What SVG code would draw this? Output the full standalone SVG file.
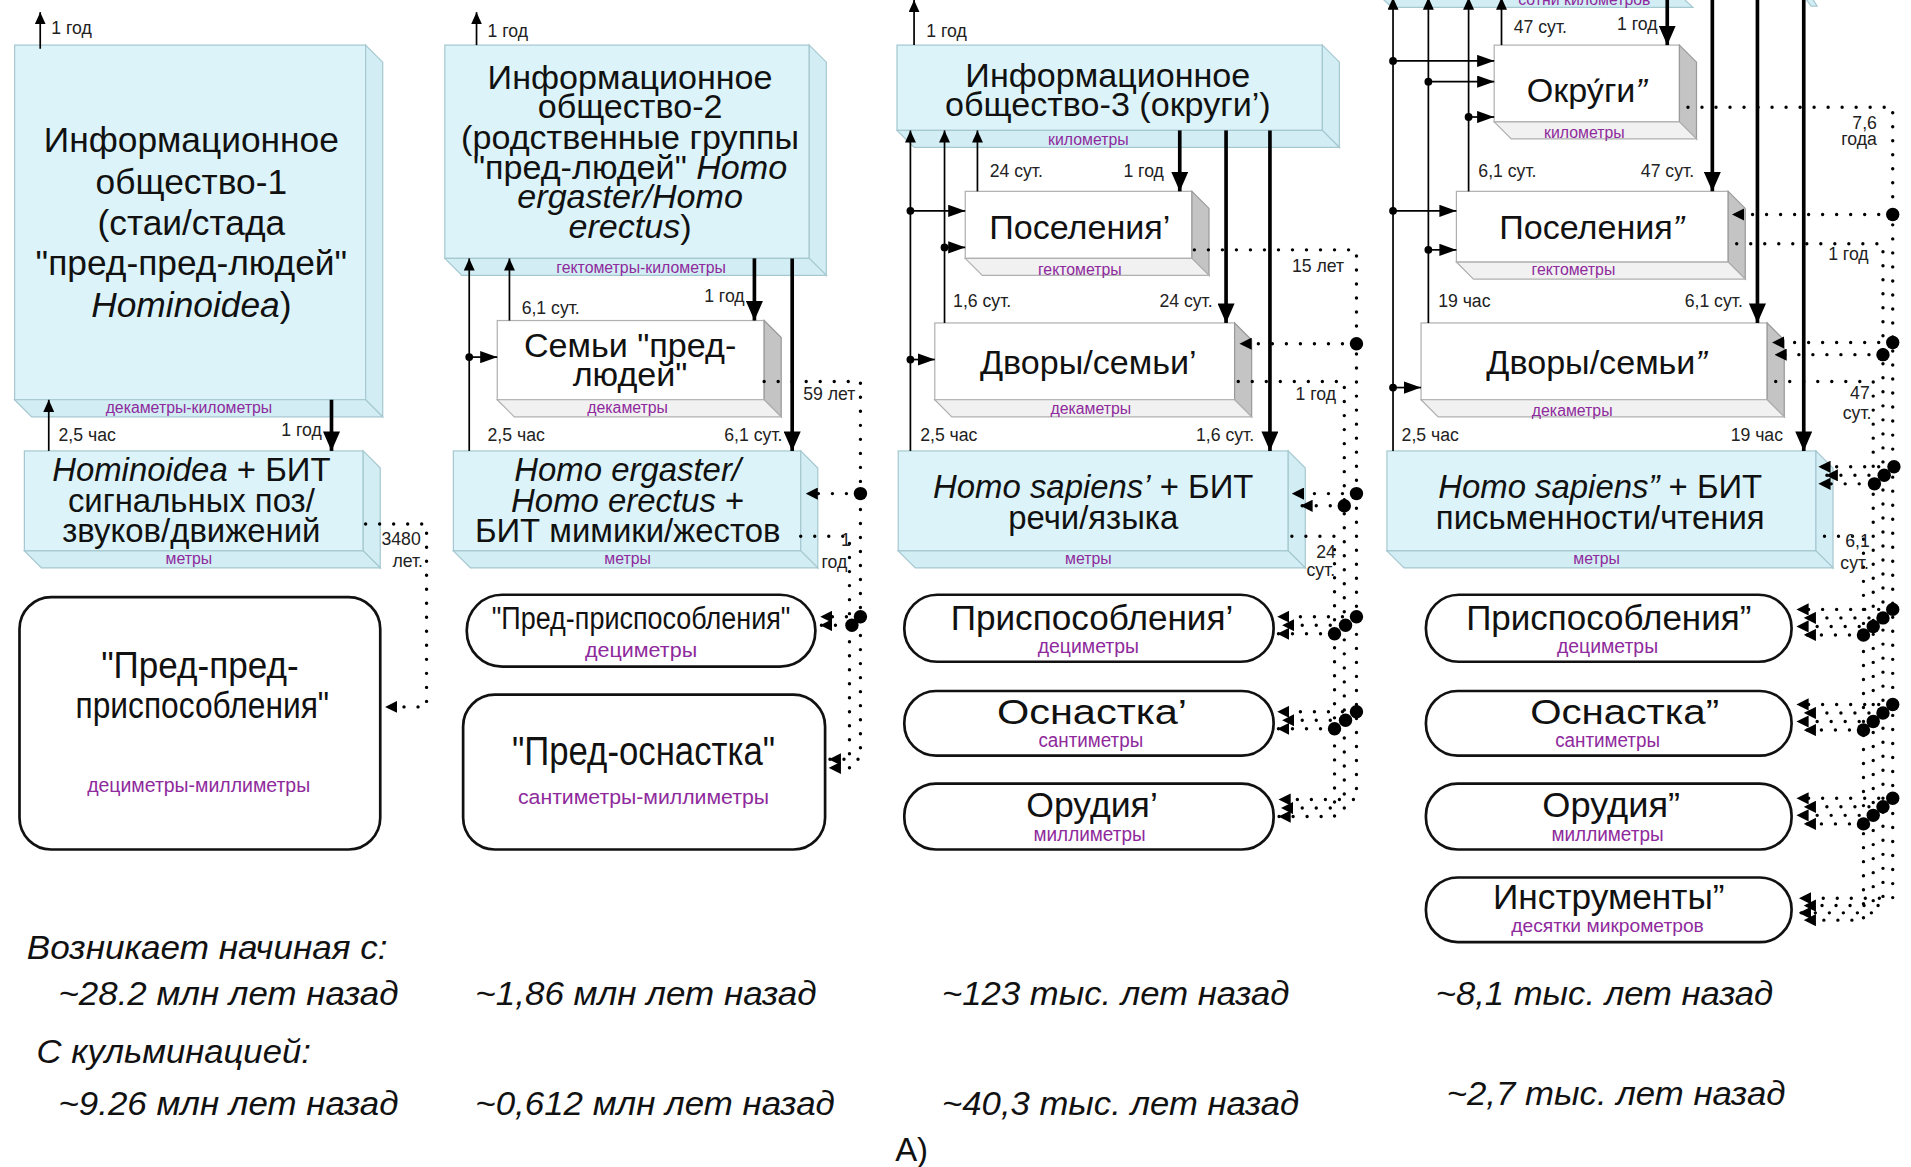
<svg xmlns="http://www.w3.org/2000/svg" width="1911" height="1167" viewBox="0 0 1911 1167">
<defs>
<style>
.cy{fill:#dcf4f9;stroke:#a6c8d0;stroke-width:1}
.cs{fill:#d2eef4;stroke:#a6c8d0;stroke-width:1}
.wf{fill:#fff;stroke:#b0b0b0;stroke-width:1}
.ws{fill:#c4c4c4;stroke:#9a9a9a;stroke-width:1}
.wb{fill:#f1f1f1;stroke:#b0b0b0;stroke-width:1}
.t{font-family:"Liberation Sans",Arial,sans-serif;fill:#111;text-anchor:middle}
.b29{font-size:29px}
.b28{font-size:28px}
.b27{font-size:27px}
.i{font-style:italic}
.s{font-family:"Liberation Sans",Arial,sans-serif;font-size:14.5px;fill:#222}
.e{text-anchor:end}
.pu{font-family:"Liberation Sans",Arial,sans-serif;font-size:13px;fill:#8e2a9c;text-anchor:middle}
.n{font-family:"Liberation Sans Narrow","Liberation Sans",Arial,sans-serif;fill:#111;text-anchor:middle}
.np{font-family:"Liberation Sans Narrow","Liberation Sans",Arial,sans-serif;fill:#8e2a9c;text-anchor:middle}
.bt{font-family:"Liberation Sans Narrow","Liberation Sans",Arial,sans-serif;font-style:italic;font-size:28px;fill:#111}
.ln{fill:none;stroke:#000;stroke-width:1.4}
.lk{fill:none;stroke:#000;stroke-width:3}
.dt{fill:none;stroke:#000;stroke-width:2.8;stroke-linecap:round;stroke-dasharray:0 11.5}
.rb{fill:#fff;stroke:#111;stroke-width:2.2}
</style>
<marker id="ta" markerUnits="userSpaceOnUse" markerWidth="10" markerHeight="9" refX="10" refY="4.5" orient="auto"><path d="M0,0 L10,4.5 L0,9 z" fill="#000"/></marker>
<marker id="tr" markerUnits="userSpaceOnUse" markerWidth="14" markerHeight="10" refX="14" refY="5" orient="auto"><path d="M0,0 L14,5 L0,10 z" fill="#000"/></marker>
<marker id="tb" markerUnits="userSpaceOnUse" markerWidth="16" markerHeight="14" refX="16" refY="7" orient="auto"><path d="M0,0 L16,7 L0,14 z" fill="#000"/></marker>
<marker id="da" markerUnits="userSpaceOnUse" markerWidth="10" markerHeight="10" refX="10" refY="5" orient="auto"><path d="M0,0 L10,5 L0,10 z" fill="#000"/></marker>
</defs>
<rect x="0" y="0" width="1911" height="1167" fill="#fff"/>
<g transform="scale(1.21875)">

<!-- ============ Column 1 ============ -->
<g id="is1">
<rect class="cy" x="12" y="37" width="288" height="291"/>
<polygon class="cs" points="300,37 314,51 314,342 300,328"/>
<polygon class="cs" points="12,328 300,328 314,342 26,342"/>
<text class="t b29" x="157" y="125">Информационное</text>
<text class="t b29" x="157" y="159">общество-1</text>
<text class="t b29" x="157" y="193">(стаи/стада</text>
<text class="t b29" x="157" y="226">"пред-пред-людей"</text>
<text class="t b29" x="157" y="260"><tspan class="i">Hominoidea</tspan>)</text>
<text class="pu" x="155" y="339">декаметры-километры</text>
</g>
<g id="bit1">
<rect class="cy" x="20" y="370" width="278" height="82"/>
<polygon class="cs" points="298,370 312,384 312,466 298,452"/>
<polygon class="cs" points="20,452 298,452 312,466 34,466"/>
<text class="t b27" x="157" y="395"><tspan class="i">Hominoidea</tspan> + БИТ</text>
<text class="t b27" x="157" y="420">сигнальных поз/</text>
<text class="t b27" x="157" y="445">звуков/движений</text>
<text class="pu" x="155" y="463">метры</text>
</g>
<g id="adapt1">
<rect class="rb" x="16" y="490" width="296" height="207" rx="26"/>
<text class="n" x="164" y="556" font-size="31" textLength="162" lengthAdjust="spacingAndGlyphs">"Пред-пред-</text>
<text class="n" x="166" y="589" font-size="31" textLength="208" lengthAdjust="spacingAndGlyphs">приспособления"</text>
<text class="np" x="163" y="650" font-size="16" textLength="183" lengthAdjust="spacingAndGlyphs">дециметры-миллиметры</text>
</g>

<!-- ============ Column 2 ============ -->
<g id="is2">
<rect class="cy" x="365" y="37" width="299" height="175"/>
<polygon class="cs" points="664,37 678,51 678,226 664,212"/>
<polygon class="cs" points="365,212 664,212 678,226 379,226"/>
<text class="t b28" x="517" y="73">Информационное</text>
<text class="t b28" x="517" y="97">общество-2</text>
<text class="t b28" x="517" y="122">(родственные группы</text>
<text class="t b28" x="517" y="147">"пред-людей" <tspan class="i">Homo</tspan></text>
<text class="t b28 i" x="517" y="171">ergaster/Homo</text>
<text class="t b28" x="517" y="195"><tspan class="i">erectus</tspan>)</text>
<text class="pu" x="526" y="224">гектометры-километры</text>
</g>
<g id="fam2">
<rect class="wf" x="408" y="263" width="219" height="65"/>
<polygon class="ws" points="627,263 641,277 641,342 627,328"/>
<polygon class="wb" points="408,328 627,328 641,342 422,342"/>
<text class="t" font-size="28" x="517" y="293">Семьи "пред-</text>
<text class="t" font-size="28" x="517" y="317">людей"</text>
<text class="pu" x="515" y="339">декаметры</text>
</g>
<g id="bit2">
<rect class="cy" x="372" y="370" width="285" height="82"/>
<polygon class="cs" points="657,370 671,384 671,466 657,452"/>
<polygon class="cs" points="372,452 657,452 671,466 386,466"/>
<text class="t b27 i" x="515" y="395">Homo ergaster/</text>
<text class="t b27" x="515" y="420"><tspan class="i">Homo erectus</tspan> +</text>
<text class="t b27" x="515" y="445">БИТ мимики/жестов</text>
<text class="pu" x="515" y="463">метры</text>
</g>
<g id="adapt2">
<rect class="rb" x="383" y="488" width="286" height="59" rx="29"/>
<text class="n" x="526" y="516" font-size="25" textLength="245" lengthAdjust="spacingAndGlyphs">"Пред-приспособления"</text>
<text class="np" x="526" y="539" font-size="17" textLength="92" lengthAdjust="spacingAndGlyphs">дециметры</text>
</g>
<g id="tool2">
<rect class="rb" x="380" y="570" width="297" height="127" rx="26"/>
<text class="n" x="528" y="628" font-size="34" textLength="216" lengthAdjust="spacingAndGlyphs">"Пред-оснастка"</text>
<text class="np" x="528" y="660" font-size="17" textLength="206" lengthAdjust="spacingAndGlyphs">сантиметры-миллиметры</text>
</g>

<!-- ============ Column 3 ============ -->
<g id="is3">
<rect class="cy" x="736" y="37" width="349" height="70"/>
<polygon class="cs" points="1085,37 1099,51 1099,121 1085,107"/>
<polygon class="cs" points="736,107 1085,107 1099,121 750,121"/>
<text class="t b28" x="909" y="71">Информационное</text>
<text class="t b28" x="909" y="95">общество-3 (округи’)</text>
<text class="pu" x="893" y="119">километры</text>
</g>
<g id="set3">
<rect class="wf" x="792" y="157" width="186" height="55"/>
<polygon class="ws" points="978,157 992,171 992,226 978,212"/>
<polygon class="wb" points="792,212 978,212 992,226 806,226"/>
<text class="t" font-size="28" x="886" y="196">Поселения’</text>
<text class="pu" x="886" y="226">гектометры</text>
</g>
<g id="yard3">
<rect class="wf" x="767" y="265" width="246" height="63"/>
<polygon class="ws" points="1013,265 1027,279 1027,342 1013,328"/>
<polygon class="wb" points="767,328 1013,328 1027,342 781,342"/>
<text class="t" font-size="28" x="893" y="307">Дворы/семьи’</text>
<text class="pu" x="895" y="340">декаметры</text>
</g>
<g id="bit3">
<rect class="cy" x="737" y="370" width="320" height="82"/>
<polygon class="cs" points="1057,370 1071,384 1071,466 1057,452"/>
<polygon class="cs" points="737,452 1057,452 1071,466 751,466"/>
<text class="t b27" x="897" y="409"><tspan class="i">Homo sapiens’</tspan> + БИТ</text>
<text class="t b27" x="897" y="434">речи/языка</text>
<text class="pu" x="893" y="463">метры</text>
</g>
<g id="adapt3">
<rect class="rb" x="742" y="488" width="303" height="55" rx="27"/>
<text class="n" x="896" y="517" font-size="29" textLength="232" lengthAdjust="spacingAndGlyphs">Приспособления’</text>
<text class="np" x="893" y="536" font-size="16" textLength="83" lengthAdjust="spacingAndGlyphs">дециметры</text>
</g>
<g id="tool3">
<rect class="rb" x="742" y="567" width="303" height="53" rx="26"/>
<text class="n" x="896" y="594" font-size="29" textLength="156" lengthAdjust="spacingAndGlyphs">Оснастка’</text>
<text class="np" x="895" y="613" font-size="16" textLength="86" lengthAdjust="spacingAndGlyphs">сантиметры</text>
</g>
<g id="instr3">
<rect class="rb" x="742" y="643" width="303" height="54" rx="26"/>
<text class="n" x="896" y="670" font-size="29" textLength="108" lengthAdjust="spacingAndGlyphs">Орудия’</text>
<text class="np" x="894" y="690" font-size="16" textLength="92" lengthAdjust="spacingAndGlyphs">миллиметры</text>
</g>

<!-- ============ Column 4 ============ -->
<g id="is4">
<polygon class="cs" points="1128,-7 1375,-7 1389,6 1142,6"/>
<polygon class="cs" points="1478,-6 1484,-6 1491,5 1486,5"/>
<text class="pu" x="1300" y="4">сотни километров</text>
</g>
<g id="okr4">
<rect class="wf" x="1226" y="37" width="152" height="63"/>
<polygon class="ws" points="1378,37 1392,51 1392,114 1378,100"/>
<polygon class="wb" points="1226,100 1378,100 1392,114 1240,114"/>
<text class="t" font-size="28" x="1302" y="84">Окру́ги<tspan class="i">”</tspan></text>
<text class="pu" x="1300" y="113">километры</text>
</g>
<g id="set4">
<rect class="wf" x="1195" y="157" width="223" height="58"/>
<polygon class="ws" points="1418,157 1432,171 1432,229 1418,215"/>
<polygon class="wb" points="1195,215 1418,215 1432,229 1209,229"/>
<text class="t" font-size="28" x="1306" y="196">Поселения<tspan class="i">”</tspan></text>
<text class="pu" x="1291" y="226">гектометры</text>
</g>
<g id="yard4">
<rect class="wf" x="1166" y="265" width="284" height="63"/>
<polygon class="ws" points="1450,265 1464,279 1464,342 1450,328"/>
<polygon class="wb" points="1166,328 1450,328 1464,342 1180,342"/>
<text class="t" font-size="28" x="1310" y="307">Дворы/семьи<tspan class="i">”</tspan></text>
<text class="pu" x="1290" y="341">декаметры</text>
</g>
<g id="bit4">
<rect class="cy" x="1138" y="370" width="352" height="82"/>
<polygon class="cs" points="1490,370 1504,384 1504,466 1490,452"/>
<polygon class="cs" points="1138,452 1490,452 1504,466 1152,466"/>
<text class="t b27" x="1313" y="409"><tspan class="i">Homo sapiens”</tspan> + БИТ</text>
<text class="t b27" x="1313" y="434">письменности/чтения</text>
<text class="pu" x="1310" y="463">метры</text>
</g>
<g id="adapt4">
<rect class="rb" x="1170" y="488" width="300" height="55" rx="27"/>
<text class="n" x="1320" y="517" font-size="29" textLength="234" lengthAdjust="spacingAndGlyphs">Приспособления”</text>
<text class="np" x="1319" y="536" font-size="16" textLength="83" lengthAdjust="spacingAndGlyphs">дециметры</text>
</g>
<g id="tool4">
<rect class="rb" x="1170" y="567" width="300" height="53" rx="26"/>
<text class="n" x="1333" y="594" font-size="29" textLength="155" lengthAdjust="spacingAndGlyphs">Оснастка”</text>
<text class="np" x="1319" y="613" font-size="16" textLength="86" lengthAdjust="spacingAndGlyphs">сантиметры</text>
</g>
<g id="instr4">
<rect class="rb" x="1170" y="643" width="300" height="54" rx="26"/>
<text class="n" x="1322" y="670" font-size="29" textLength="113" lengthAdjust="spacingAndGlyphs">Орудия”</text>
<text class="np" x="1319" y="690" font-size="16" textLength="92" lengthAdjust="spacingAndGlyphs">миллиметры</text>
</g>
<g id="micro4">
<rect class="rb" x="1170" y="720" width="300" height="53" rx="26"/>
<text class="n" x="1320" y="746" font-size="29" textLength="190" lengthAdjust="spacingAndGlyphs">Инструменты”</text>
<text class="np" x="1319" y="765" font-size="15" textLength="158" lengthAdjust="spacingAndGlyphs">десятки микрометров</text>
</g>

<!-- ============ Connectors ============ -->
<g id="connectors">
<!-- col 1 -->
<line class="ln" x1="33" y1="40" x2="33" y2="10" marker-end="url(#ta)"/>
<line class="ln" x1="40" y1="370" x2="40" y2="328" marker-end="url(#ta)"/>
<line class="lk" x1="272" y1="328" x2="272" y2="370" marker-end="url(#tb)"/>
<path class="dt" d="M300,430 H350 V580 H316" marker-end="url(#da)"/>
<!-- col 2 -->
<line class="ln" x1="391" y1="37" x2="391" y2="10" marker-end="url(#ta)"/>
<line class="ln" x1="385" y1="370" x2="385" y2="212" marker-end="url(#ta)"/>
<line class="ln" x1="418" y1="263" x2="418" y2="212" marker-end="url(#ta)"/>
<line class="lk" x1="619" y1="212" x2="619" y2="263" marker-end="url(#tb)"/>
<line class="lk" x1="650" y1="212" x2="650" y2="370" marker-end="url(#tb)"/>
<circle cx="385" cy="293" r="3.2"/>
<line class="ln" x1="385" y1="293" x2="408" y2="293" marker-end="url(#tr)"/>
<path class="dt" d="M627,313 H706 V623 H680" marker-end="url(#da)"/>
<path class="dt" d="M657,440 H697 V630 H680" marker-end="url(#da)"/>
<path class="dt" d="M706,405 H661" marker-end="url(#da)"/>
<path class="dt" d="M706,506 H673" marker-end="url(#da)"/>
<path class="dt" d="M697,513 H673" marker-end="url(#da)"/>
<circle cx="706" cy="405" r="5.5"/>
<circle cx="706" cy="506" r="5.5"/>
<circle cx="699" cy="513" r="5.5"/>
<!-- col 3 -->
<line class="ln" x1="750" y1="37" x2="750" y2="0" marker-end="url(#ta)"/>
<line class="ln" x1="747" y1="370" x2="747" y2="107" marker-end="url(#ta)"/>
<line class="ln" x1="775" y1="265" x2="775" y2="107" marker-end="url(#ta)"/>
<line class="ln" x1="802" y1="157" x2="802" y2="107" marker-end="url(#ta)"/>
<line class="lk" x1="968" y1="107" x2="968" y2="157" marker-end="url(#tb)"/>
<line class="lk" x1="1006" y1="107" x2="1006" y2="265" marker-end="url(#tb)"/>
<line class="lk" x1="1042" y1="107" x2="1042" y2="370" marker-end="url(#tb)"/>
<circle cx="747" cy="173" r="3.2"/>
<line class="ln" x1="747" y1="173" x2="792" y2="173" marker-end="url(#tr)"/>
<circle cx="775" cy="203" r="3.2"/>
<line class="ln" x1="775" y1="203" x2="792" y2="203" marker-end="url(#tr)"/>
<circle cx="747" cy="295" r="3.2"/>
<line class="ln" x1="747" y1="295" x2="767" y2="295" marker-end="url(#tr)"/>
<path class="dt" d="M980,205 H1113 V656 H1049" marker-end="url(#da)"/>
<path class="dt" d="M1016,313 H1103 V663 H1051" marker-end="url(#da)"/>
<path class="dt" d="M1060,440 H1095 V670 H1049" marker-end="url(#da)"/>
<path class="dt" d="M1113,282 H1017" marker-end="url(#da)"/>
<path class="dt" d="M1113,405 H1060" marker-end="url(#da)"/>
<path class="dt" d="M1103,415 H1067" marker-end="url(#da)"/>
<path class="dt" d="M1113,506 H1048" marker-end="url(#da)"/>
<path class="dt" d="M1103,513 H1052" marker-end="url(#da)"/>
<path class="dt" d="M1095,520 H1048" marker-end="url(#da)"/>
<path class="dt" d="M1113,584 H1048" marker-end="url(#da)"/>
<path class="dt" d="M1103,591 H1052" marker-end="url(#da)"/>
<path class="dt" d="M1095,598 H1048" marker-end="url(#da)"/>
<circle cx="1113" cy="282" r="5.5"/>
<circle cx="1113" cy="405" r="5.5"/>
<circle cx="1103" cy="415" r="5.5"/>
<circle cx="1113" cy="506" r="5.5"/>
<circle cx="1104" cy="513" r="5.5"/>
<circle cx="1095" cy="520" r="5.5"/>
<circle cx="1113" cy="584" r="5.5"/>
<circle cx="1104" cy="591" r="5.5"/>
<circle cx="1095" cy="598" r="5.5"/>
<!-- col 4 -->
<line class="ln" x1="1143" y1="370" x2="1143" y2="-2" marker-end="url(#ta)"/>
<line class="ln" x1="1172" y1="265" x2="1172" y2="-2" marker-end="url(#ta)"/>
<line class="ln" x1="1205" y1="157" x2="1205" y2="-2" marker-end="url(#ta)"/>
<line class="ln" x1="1232" y1="37" x2="1232" y2="-2" marker-end="url(#ta)"/>
<line class="lk" x1="1368" y1="-5" x2="1368" y2="37" marker-end="url(#tb)"/>
<line class="lk" x1="1405" y1="-5" x2="1405" y2="157" marker-end="url(#tb)"/>
<line class="lk" x1="1442" y1="-5" x2="1442" y2="265" marker-end="url(#tb)"/>
<line class="lk" x1="1480" y1="-5" x2="1480" y2="370" marker-end="url(#tb)"/>
<circle cx="1143" cy="50" r="3.2"/>
<line class="ln" x1="1143" y1="50" x2="1226" y2="50" marker-end="url(#tr)"/>
<circle cx="1172" cy="67" r="3.2"/>
<line class="ln" x1="1172" y1="67" x2="1226" y2="67" marker-end="url(#tr)"/>
<circle cx="1205" cy="96" r="3.2"/>
<line class="ln" x1="1205" y1="96" x2="1226" y2="96" marker-end="url(#tr)"/>
<circle cx="1143" cy="173" r="3.2"/>
<line class="ln" x1="1143" y1="173" x2="1195" y2="173" marker-end="url(#tr)"/>
<circle cx="1172" cy="205" r="3.2"/>
<line class="ln" x1="1172" y1="205" x2="1195" y2="205" marker-end="url(#tr)"/>
<circle cx="1143" cy="318" r="3.2"/>
<line class="ln" x1="1143" y1="318" x2="1166" y2="318" marker-end="url(#tr)"/>
<path class="dt" d="M1385,88 H1553 V737 H1476" marker-end="url(#da)"/>
<path class="dt" d="M1425,200 H1545 V743 H1480" marker-end="url(#da)"/>
<path class="dt" d="M1457,313 H1537 V749 H1476" marker-end="url(#da)"/>
<path class="dt" d="M1497,440 H1529 V755 H1480" marker-end="url(#da)"/>
<path class="dt" d="M1553,176 H1421" marker-end="url(#da)"/>
<path class="dt" d="M1553,281 H1454" marker-end="url(#da)"/>
<path class="dt" d="M1545,291 H1456" marker-end="url(#da)"/>
<path class="dt" d="M1553,383 H1492" marker-end="url(#da)"/>
<path class="dt" d="M1545,390 H1498" marker-end="url(#da)"/>
<path class="dt" d="M1537,397 H1492" marker-end="url(#da)"/>
<path class="dt" d="M1553,500 H1474" marker-end="url(#da)"/>
<path class="dt" d="M1545,507 H1480" marker-end="url(#da)"/>
<path class="dt" d="M1537,514 H1474" marker-end="url(#da)"/>
<path class="dt" d="M1529,521 H1480" marker-end="url(#da)"/>
<path class="dt" d="M1553,578 H1474" marker-end="url(#da)"/>
<path class="dt" d="M1545,585 H1480" marker-end="url(#da)"/>
<path class="dt" d="M1537,592 H1474" marker-end="url(#da)"/>
<path class="dt" d="M1529,599 H1480" marker-end="url(#da)"/>
<path class="dt" d="M1553,655 H1474" marker-end="url(#da)"/>
<path class="dt" d="M1545,662 H1480" marker-end="url(#da)"/>
<path class="dt" d="M1537,669 H1474" marker-end="url(#da)"/>
<path class="dt" d="M1529,676 H1480" marker-end="url(#da)"/>
<circle cx="1553" cy="176" r="5.5"/>
<circle cx="1553" cy="281" r="5.5"/>
<circle cx="1545" cy="291" r="5.5"/>
<circle cx="1554" cy="383" r="5.5"/>
<circle cx="1546" cy="390" r="5.5"/>
<circle cx="1538" cy="397" r="5.5"/>
<circle cx="1553" cy="500" r="5.5"/>
<circle cx="1545" cy="507" r="5.5"/>
<circle cx="1537" cy="514" r="5.5"/>
<circle cx="1529" cy="521" r="5.5"/>
<circle cx="1553" cy="578" r="5.5"/>
<circle cx="1545" cy="585" r="5.5"/>
<circle cx="1537" cy="592" r="5.5"/>
<circle cx="1529" cy="599" r="5.5"/>
<circle cx="1553" cy="655" r="5.5"/>
<circle cx="1545" cy="662" r="5.5"/>
<circle cx="1537" cy="669" r="5.5"/>
<circle cx="1529" cy="676" r="5.5"/>
</g>

<!-- ============ Connector labels ============ -->
<g id="labels">
<text class="s" x="42" y="28">1 год</text>
<text class="s" x="48" y="362">2,5 час</text>
<text class="s e" x="264" y="358">1 год</text>
<text class="s" x="313" y="447">3480</text>
<text class="s" x="322" y="465">лет.</text>
<text class="s" x="400" y="30">1 год</text>
<text class="s" x="428" y="258">6,1 сут.</text>
<text class="s e" x="611" y="248">1 год</text>
<text class="s" x="400" y="362">2,5 час</text>
<text class="s e" x="642" y="362">6,1 сут.</text>
<text class="s" x="659" y="328">59 лет</text>
<text class="s" x="690" y="448">1</text>
<text class="s" x="674" y="466">год</text>
<text class="s" x="760" y="30">1 год</text>
<text class="s" x="812" y="145">24 сут.</text>
<text class="s e" x="955" y="145">1 год</text>
<text class="s" x="782" y="252">1,6 сут.</text>
<text class="s e" x="995" y="252">24 сут.</text>
<text class="s" x="755" y="362">2,5 час</text>
<text class="s e" x="1029" y="362">1,6 сут.</text>
<text class="s" x="1060" y="223">15 лет</text>
<text class="s" x="1063" y="328">1 год</text>
<text class="s" x="1080" y="458">24</text>
<text class="s" x="1072" y="473">сут.</text>
<text class="s" x="1242" y="27">47 сут.</text>
<text class="s e" x="1360" y="25">1 год</text>
<text class="s" x="1213" y="145">6,1 сут.</text>
<text class="s e" x="1390" y="145">47 сут.</text>
<text class="s" x="1180" y="252">19 час</text>
<text class="s e" x="1430" y="252">6,1 сут.</text>
<text class="s" x="1150" y="362">2,5 час</text>
<text class="s e" x="1463" y="362">19 час</text>
<text class="s e" x="1540" y="106">7,6</text>
<text class="s e" x="1540" y="119">года</text>
<text class="s" x="1500" y="213">1 год</text>
<text class="s" x="1518" y="327">47</text>
<text class="s" x="1512" y="344">сут.</text>
<text class="s" x="1514" y="449">6,1</text>
<text class="s" x="1510" y="467">сут.</text>
</g>

<!-- ============ Bottom texts ============ -->
<g id="timeline">
<text class="bt" x="22" y="787" textLength="296" lengthAdjust="spacingAndGlyphs">Возникает начиная с:</text>
<text class="bt" x="48" y="825" textLength="279" lengthAdjust="spacingAndGlyphs">~28.2 млн лет назад</text>
<text class="bt" x="390" y="825" textLength="280" lengthAdjust="spacingAndGlyphs">~1,86 млн лет назад</text>
<text class="bt" x="773" y="825" textLength="285" lengthAdjust="spacingAndGlyphs">~123 тыс. лет назад</text>
<text class="bt" x="1178" y="825" textLength="277" lengthAdjust="spacingAndGlyphs">~8,1 тыс. лет назад</text>
<text class="bt" x="30" y="872" textLength="225" lengthAdjust="spacingAndGlyphs">С кульминацией:</text>
<text class="bt" x="48" y="915" textLength="279" lengthAdjust="spacingAndGlyphs">~9.26 млн лет назад</text>
<text class="bt" x="390" y="915" textLength="295" lengthAdjust="spacingAndGlyphs">~0,612 млн лет назад</text>
<text class="bt" x="773" y="915" textLength="293" lengthAdjust="spacingAndGlyphs">~40,3 тыс. лет назад</text>
<text class="bt" x="1187" y="907" textLength="278" lengthAdjust="spacingAndGlyphs">~2,7 тыс. лет назад</text>
<text class="n" x="748" y="953" font-size="28" textLength="27" lengthAdjust="spacingAndGlyphs">A)</text>
</g>
</g>
</svg>
